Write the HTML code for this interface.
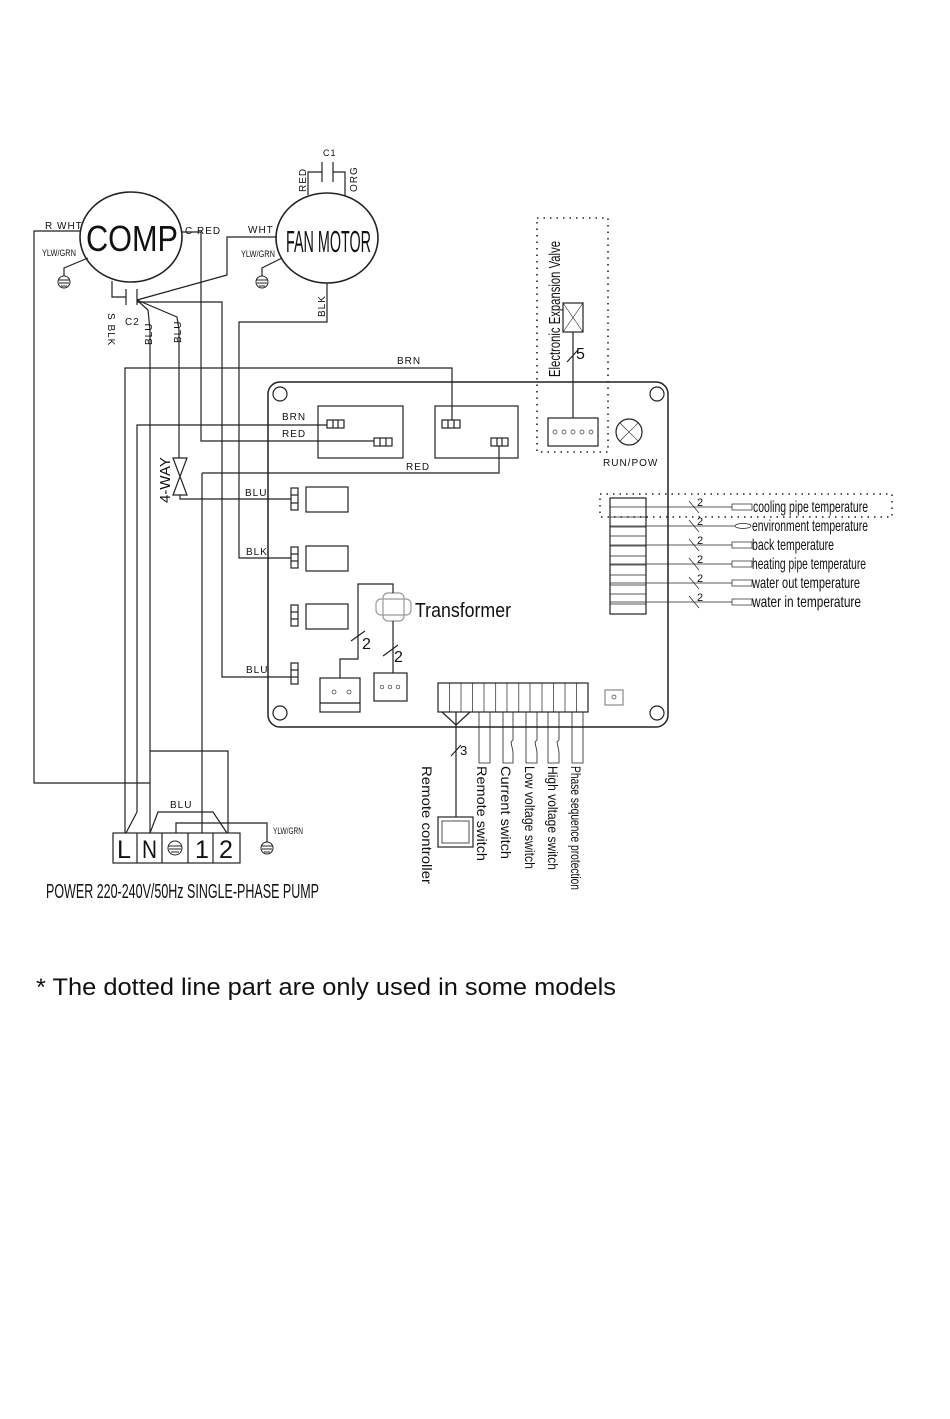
<!DOCTYPE html>
<html><head><meta charset="utf-8"><style>
html,body{margin:0;padding:0;background:#fff;}
svg{display:block;}
text{font-family:"Liberation Sans",sans-serif;fill:#111;}
</style></head><body>
<svg width="950" height="1419" viewBox="0 0 950 1419" xmlns="http://www.w3.org/2000/svg">
<g fill="none" stroke="#222" stroke-width="1.2">
<ellipse cx="131" cy="237" rx="51" ry="45" stroke-width="1.6"/>
<ellipse cx="327" cy="238" rx="51" ry="45" stroke-width="1.6"/>
<polyline points="308,195 308,172 322,172"/><line x1="322" y1="162" x2="322" y2="182"/><line x1="333" y1="162" x2="333" y2="182"/><polyline points="333,172 345,172 345,196"/>
<polyline points="81,231 34,231 34,783 150,783"/>
<polyline points="182,232 201,232 201,441 374,441"/>
<polyline points="202,473 499,473 499,446"/>
<line x1="202" y1="473" x2="202" y2="833"/>
<polyline points="88,258 64,268 64,276"/>
<polyline points="282,258 262,268 262,276"/>
<polyline points="112,281 112,297 126,297"/><line x1="126" y1="289" x2="126" y2="305"/><line x1="137" y1="289" x2="137" y2="305"/>
<polyline points="137,300 227,275 227,237 277,237"/>
<polyline points="137,302 222,302 222,677 291,677"/>
<polyline points="137,300 148,310 150,330 150,833"/>
<polyline points="150,751 228,751 228,833"/>
<polyline points="137,300 177,317 179,330 179,458"/>
<polyline points="327,283 327,322 239,322 239,558 291,558"/>
<polyline points="125,833 125,368 452,368 452,420"/>
<polyline points="327,425 137,425 137,812 126,833"/>
<polygon points="173,458 187,458 173,495 187,495"/>
<polyline points="180,495 180,499 291,499"/>
<polyline points="150,833 158,812 213,812 227,833"/>
<polyline points="176,833 176,823 267,823 267,842"/>
<rect x="268" y="382" width="400" height="345" rx="12" stroke-width="1.5"/>
<circle cx="280" cy="394" r="7"/><circle cx="657" cy="394" r="7"/><circle cx="280" cy="713" r="7"/><circle cx="657" cy="713" r="7"/>
<rect x="318" y="406" width="85" height="52"/><rect x="435" y="406" width="83" height="52"/>
<rect x="327" y="420" width="17" height="8"/><line x1="333" y1="420" x2="333" y2="428"/><line x1="338" y1="420" x2="338" y2="428"/>
<rect x="374" y="438" width="18" height="8"/><line x1="380" y1="438" x2="380" y2="446"/><line x1="386" y1="438" x2="386" y2="446"/>
<rect x="442" y="420" width="18" height="8"/><line x1="448" y1="420" x2="448" y2="428"/><line x1="454" y1="420" x2="454" y2="428"/>
<rect x="491" y="438" width="17" height="8"/><line x1="497" y1="438" x2="497" y2="446"/><line x1="502" y1="438" x2="502" y2="446"/>
<rect x="291" y="488" width="7" height="22"/><line x1="291" y1="495" x2="298" y2="495"/><line x1="291" y1="503" x2="298" y2="503"/><rect x="306" y="487" width="42" height="25"/>
<rect x="291" y="547" width="7" height="21"/><line x1="291" y1="554" x2="298" y2="554"/><line x1="291" y1="561" x2="298" y2="561"/><rect x="306" y="546" width="42" height="25"/>
<rect x="291" y="605" width="7" height="21"/><line x1="291" y1="612" x2="298" y2="612"/><line x1="291" y1="619" x2="298" y2="619"/><rect x="306" y="604" width="42" height="25"/>
<rect x="291" y="663" width="7" height="21"/><line x1="291" y1="670" x2="298" y2="670"/><line x1="291" y1="677" x2="298" y2="677"/>
<rect x="537" y="218" width="71" height="234" stroke-dasharray="1.5,5" stroke-width="1.6"/>
<rect x="563" y="303" width="20" height="29"/><line x1="563" y1="303" x2="583" y2="332" stroke-width="0.6"/><line x1="583" y1="303" x2="563" y2="332" stroke-width="0.6"/>
<line x1="573" y1="332" x2="573" y2="418"/><line x1="567" y1="362" x2="578" y2="350"/>
<rect x="548" y="418" width="50" height="28"/>
<circle cx="629" cy="432" r="13"/><line x1="620" y1="423" x2="638" y2="441" stroke-width="0.6"/><line x1="638" y1="423" x2="620" y2="441" stroke-width="0.6"/>
<rect x="376" y="599" width="35" height="16" rx="5" stroke="#999"/><rect x="383" y="593" width="21" height="28" rx="5" stroke="#999"/>
<polyline points="393,593 393,584 358,584 358,659 340,659 340,678"/>
<line x1="393" y1="621" x2="393" y2="673"/>
<line x1="351" y1="641" x2="365" y2="631"/><line x1="383" y1="656" x2="398" y2="645"/>
<rect x="320" y="678" width="40" height="34"/><line x1="320" y1="703" x2="360" y2="703"/>
<rect x="374" y="673" width="33" height="28"/>
<rect x="438" y="683" width="150" height="29"/>
<g stroke-width="0.7"><line x1="449.5" y1="683" x2="449.5" y2="712"/><line x1="461" y1="683" x2="461" y2="712"/><line x1="472.6" y1="683" x2="472.6" y2="712"/><line x1="484" y1="683" x2="484" y2="712"/><line x1="495.7" y1="683" x2="495.7" y2="712"/><line x1="507" y1="683" x2="507" y2="712"/><line x1="518.8" y1="683" x2="518.8" y2="712"/><line x1="530" y1="683" x2="530" y2="712"/><line x1="542" y1="683" x2="542" y2="712"/><line x1="553.5" y1="683" x2="553.5" y2="712"/><line x1="565" y1="683" x2="565" y2="712"/><line x1="576.6" y1="683" x2="576.6" y2="712"/></g>
<rect x="605" y="690" width="18" height="15" stroke="#888"/>
<polyline points="442,712 456,725 470,712"/><line x1="456" y1="712" x2="456" y2="725"/>
<line x1="456" y1="725" x2="456" y2="817"/><line x1="451" y1="756" x2="461" y2="745"/>
<rect x="438" y="817" width="35" height="30"/><rect x="442" y="821" width="27" height="22" stroke-width="0.8"/>
<g stroke-width="0.8">
<polyline points="479,712 479,763 490,763 490,712"/>
<polyline points="503,712 503,763 513,763 513,752 511,742 513,740 513,712"/>
<polyline points="526,712 526,763 537,763 537,752 535,742 537,740 537,712"/>
<polyline points="548,712 548,763 559,763 559,752 557,742 559,740 559,712"/>
<polyline points="572,712 572,763 583,763 583,712"/>
</g>
<rect x="610" y="498" width="36" height="116"/>
<g stroke-width="0.7">
<line x1="610" y1="517" x2="646" y2="517"/><line x1="610" y1="527" x2="646" y2="527"/><line x1="610" y1="536" x2="646" y2="536"/><line x1="610" y1="546" x2="646" y2="546"/><line x1="610" y1="556" x2="646" y2="556"/><line x1="610" y1="565" x2="646" y2="565"/><line x1="610" y1="575" x2="646" y2="575"/><line x1="610" y1="585" x2="646" y2="585"/><line x1="610" y1="594" x2="646" y2="594"/><line x1="610" y1="604" x2="646" y2="604"/>
<line x1="610" y1="507" x2="732" y2="507"/><line x1="610" y1="526" x2="735" y2="526"/><line x1="610" y1="545" x2="732" y2="545"/><line x1="610" y1="564" x2="732" y2="564"/><line x1="610" y1="583" x2="732" y2="583"/><line x1="610" y1="602" x2="732" y2="602"/>
<line x1="689" y1="501" x2="699" y2="513"/><line x1="689" y1="520" x2="699" y2="532"/><line x1="689" y1="539" x2="699" y2="551"/><line x1="689" y1="558" x2="699" y2="570"/><line x1="689" y1="577" x2="699" y2="589"/><line x1="689" y1="596" x2="699" y2="608"/>
<rect x="732" y="504" width="20" height="6"/><ellipse cx="743" cy="526" rx="8" ry="2.5"/><rect x="732" y="542" width="20" height="6"/><rect x="732" y="561" width="20" height="6"/><rect x="732" y="580" width="20" height="6"/><rect x="732" y="599" width="20" height="6"/>
</g>
<rect x="600" y="494" width="292" height="23" stroke-dasharray="1.5,5" stroke-width="1.5"/>
<rect x="113" y="833" width="127" height="30"/>
<line x1="137" y1="833" x2="137" y2="863"/><line x1="162" y1="833" x2="162" y2="863"/><line x1="188" y1="833" x2="188" y2="863"/><line x1="213" y1="833" x2="213" y2="863"/>
</g>
<g fill="none" stroke="#222" stroke-width="1">
<circle cx="64" cy="282" r="6"/><line x1="58" y1="280" x2="70" y2="280"/><line x1="59" y1="283" x2="69" y2="283"/><line x1="61" y1="286" x2="67" y2="286"/>
<circle cx="262" cy="282" r="6"/><line x1="256" y1="280" x2="268" y2="280"/><line x1="257" y1="283" x2="267" y2="283"/><line x1="259" y1="286" x2="265" y2="286"/>
<circle cx="175" cy="848" r="7"/><line x1="168" y1="846" x2="182" y2="846"/><line x1="169" y1="849" x2="181" y2="849"/><line x1="171" y1="852" x2="179" y2="852"/>
<circle cx="267" cy="848" r="6"/><line x1="261" y1="846" x2="273" y2="846"/><line x1="262" y1="849" x2="272" y2="849"/><line x1="264" y1="852" x2="270" y2="852"/>
</g>
<g fill="none" stroke="#333" stroke-width="0.7">
<circle cx="555" cy="432" r="2"/><circle cx="564" cy="432" r="2"/><circle cx="573" cy="432" r="2"/><circle cx="582" cy="432" r="2"/><circle cx="591" cy="432" r="2"/>
<circle cx="334" cy="692" r="2"/><circle cx="349" cy="692" r="2"/>
<circle cx="382" cy="687" r="1.8"/><circle cx="390" cy="687" r="1.8"/><circle cx="398" cy="687" r="1.8"/>
<circle cx="614" cy="697" r="2"/>
</g>
<text x="86" y="251" font-size="36" textLength="92" lengthAdjust="spacingAndGlyphs">COMP</text>
<text x="286" y="252" font-size="31" textLength="85" lengthAdjust="spacingAndGlyphs">FAN MOTOR</text>
<g font-size="10" letter-spacing="1">
<text x="45" y="229">R WHT</text>
<text x="185" y="234">C RED</text>
<text x="248" y="233">WHT</text>
<text x="397" y="364">BRN</text>
<text x="282" y="420">BRN</text>
<text x="282" y="437">RED</text>
<text x="406" y="470">RED</text>
<text x="245" y="496">BLU</text>
<text x="246" y="555">BLK</text>
<text x="246" y="673">BLU</text>
<text x="603" y="466">RUN/POW</text>
<text x="170" y="808">BLU</text>
<text x="125" y="325">C2</text>
<text x="323" y="156" font-size="9">C1</text>
</g>
<g font-size="9">
<text x="42" y="256" textLength="34" lengthAdjust="spacingAndGlyphs">YLW/GRN</text>
<text x="241" y="257" textLength="34" lengthAdjust="spacingAndGlyphs">YLW/GRN</text>
<text x="273" y="834" textLength="30" lengthAdjust="spacingAndGlyphs">YLW/GRN</text>
</g>
<g font-size="10" letter-spacing="1">
<text transform="translate(306,192) rotate(-90)">RED</text>
<text transform="translate(357,192) rotate(-90)">ORG</text>
<text transform="translate(108,313) rotate(90)">S BLK</text>
<text transform="translate(152,345) rotate(-90)">BLU</text>
<text transform="translate(181,343) rotate(-90)">BLU</text>
<text transform="translate(325,317) rotate(-90)">BLK</text>
</g>
<text transform="translate(170,503) rotate(-90)" font-size="15">4-WAY</text>
<text transform="translate(560,377) rotate(-90)" font-size="16" textLength="136" lengthAdjust="spacingAndGlyphs">Electronic Expansion Valve</text>
<text x="576" y="359" font-size="16">5</text>
<text x="415" y="617" font-size="20" textLength="96" lengthAdjust="spacingAndGlyphs">Transformer</text>
<text x="362" y="649" font-size="16">2</text>
<text x="394" y="662" font-size="16">2</text>
<text x="460" y="755" font-size="13">3</text>
<g font-size="11"><text x="697" y="506">2</text><text x="697" y="525">2</text><text x="697" y="544">2</text><text x="697" y="563">2</text><text x="697" y="582">2</text><text x="697" y="601">2</text></g>
<g font-size="16">
<text x="753" y="512" textLength="115" lengthAdjust="spacingAndGlyphs">cooling pipe temperature</text>
<text x="752" y="531" textLength="116" lengthAdjust="spacingAndGlyphs">environment temperature</text>
<text x="752" y="550" textLength="82" lengthAdjust="spacingAndGlyphs">back temperature</text>
<text x="752" y="569" textLength="114" lengthAdjust="spacingAndGlyphs">heating pipe temperature</text>
<text x="752" y="588" textLength="108" lengthAdjust="spacingAndGlyphs">water out temperature</text>
<text x="752" y="607" textLength="109" lengthAdjust="spacingAndGlyphs">water in temperature</text>
</g>
<g font-size="14">
<text transform="translate(422,766) rotate(90)" textLength="118" lengthAdjust="spacingAndGlyphs">Remote controller</text>
<text transform="translate(477,766) rotate(90)" textLength="95" lengthAdjust="spacingAndGlyphs">Remote switch</text>
<text transform="translate(501,766) rotate(90)" textLength="93" lengthAdjust="spacingAndGlyphs">Current switch</text>
<text transform="translate(525,766) rotate(90)" textLength="103" lengthAdjust="spacingAndGlyphs">Low voltage switch</text>
<text transform="translate(548,766) rotate(90)" textLength="104" lengthAdjust="spacingAndGlyphs">High voltage switch</text>
<text transform="translate(571,766) rotate(90)" textLength="124" lengthAdjust="spacingAndGlyphs">Phase sequence protection</text>
</g>
<g font-size="25"><text x="117" y="858" textLength="14" lengthAdjust="spacingAndGlyphs">L</text><text x="142" y="858" textLength="15" lengthAdjust="spacingAndGlyphs">N</text><text x="195" y="858">1</text><text x="219" y="858">2</text></g>
<text x="46" y="898" font-size="20" textLength="273" lengthAdjust="spacingAndGlyphs">POWER 220-240V/50Hz SINGLE-PHASE PUMP</text>
<text x="36" y="995" font-size="24" textLength="580" lengthAdjust="spacingAndGlyphs">* The dotted line part are only used in some models</text>
</svg>
</body></html>
